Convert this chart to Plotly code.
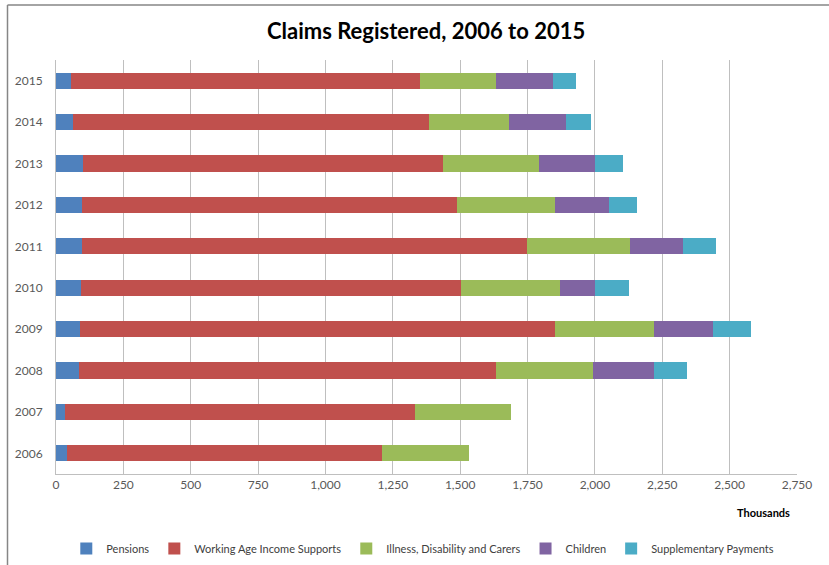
"""
Claims registered by scheme, 2006 to 2015 (stacked horizontal bars).
"""
import plotly.graph_objects as go

# Years (categories, bottom to top)
years = ["2006", "2007", "2008", "2009", "2010", "2011", "2012", "2013", "2014", "2015"]

# Values in thousands
pensions = [40, 35, 84, 88, 94, 98, 98, 101, 63, 55]
working_age = [1170, 1298, 1549, 1765, 1408, 1649, 1390, 1335, 1321, 1296]
illness = [323, 354, 359, 367, 368, 383, 365, 355, 296, 281]
children = [0, 0, 227, 218, 129, 198, 198, 208, 214, 214]
supplementary = [0, 0, 121, 140, 127, 121, 104, 105, 90, 85]

x_ticks = list(range(0, 2751, 250))

series = [
    ("Pensions", pensions, "#4F81BD"),
    ("Working Age Income Supports", working_age, "#C0504D"),
    ("Illness, Disability and Carers", illness, "#9BBB59"),
    ("Children", children, "#8064A2"),
    ("Supplementary Payments", supplementary, "#4BACC6"),
]

font_family = "Lato, 'Open Sans', sans-serif"

fig = go.Figure()

for name, values, color in series:
    fig.add_trace(
        go.Bar(
            y=years,
            x=values,
            name=name,
            orientation="h",
            marker=dict(color=color, line=dict(width=0)),
            hovertemplate=f"{name}<br>%{{y}}: %{{x:,}}k<extra></extra>",
        )
    )

fig.update_layout(
    barmode="stack",
    bargap=0.61,
    width=829,
    height=565,
    paper_bgcolor="white",
    plot_bgcolor="white",
    margin=dict(l=56, r=32, t=60, b=91, autoexpand=False),
    font=dict(family=font_family, size=12, color="#595959"),
    title=dict(
        text="<b>Claims Registered, 2006 to 2015</b>",
        x=0.514,
        xanchor="center",
        y=0.944,
        yanchor="middle",
        font=dict(size=22, color="#000000", family=font_family),
    ),
    legend=dict(
        orientation="h",
        x=0.495,
        xanchor="center",
        y=-0.18,
        yanchor="middle",
        font=dict(size=11, color="#404040"),
        traceorder="normal",
        itemwidth=30,
    ),
    showlegend=True,
)

fig.update_xaxes(
    range=[0, 2750],
    tickvals=x_ticks,
    tickformat=",",
    showgrid=True,
    gridcolor="#BFBFBF",
    gridwidth=1,
    showline=True,
    linecolor="#BFBFBF",
    linewidth=1,
    zeroline=False,
    ticks="",
    tickfont=dict(size=12, color="#595959"),
    automargin=False,
    fixedrange=True,
)

fig.update_yaxes(
    type="category",
    categoryorder="array",
    categoryarray=years,
    showgrid=False,
    showline=True,
    linecolor="#BFBFBF",
    linewidth=1,
    ticks="",
    ticklabelstandoff=10,
    tickfont=dict(size=12, color="#595959"),
    automargin=False,
    fixedrange=True,
)

# Axis unit label
fig.add_annotation(
    text="<b>Thousands</b>",
    xref="paper",
    yref="paper",
    x=0.955,
    y=-0.092,
    xanchor="center",
    yanchor="middle",
    showarrow=False,
    font=dict(size=11, color="#000000", family=font_family),
)

# Chart frame (top and left edges visible in the original)
frame_x = (7.5 - 56) / 741
frame_y = 1 + (60 - 5) / 414
fig.add_shape(
    type="line", xref="paper", yref="paper",
    x0=frame_x, y0=frame_y, x1=1.1, y1=frame_y,
    line=dict(color="#868686", width=1.5),
)
fig.add_shape(
    type="line", xref="paper", yref="paper",
    x0=frame_x, y0=frame_y, x1=frame_x, y1=-0.3,
    line=dict(color="#868686", width=1.5),
)

# Remove the page margin so the figure sits at the window's top-left corner
fig.write_html(
    "out.html",
    config={"displayModeBar": False},
    post_script="document.body.style.margin='0';",
)
